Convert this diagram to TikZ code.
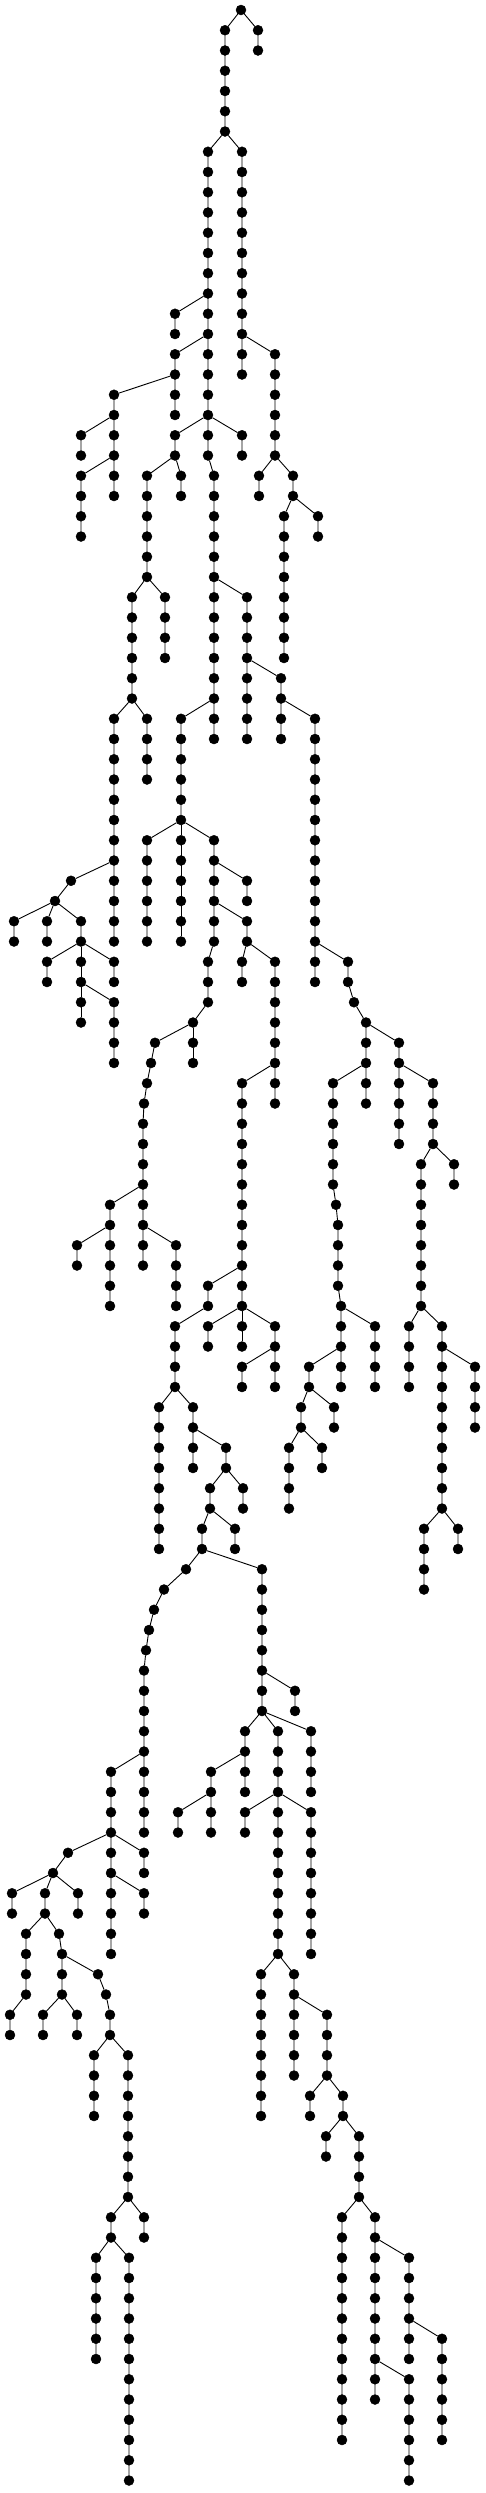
\documentclass[tikz,border=0pt]{standalone}
\usepackage{tikz}

\tikzset{
    vertex/.style={shape=circle, draw=black, fill=black, inner sep=0pt, minimum size=10pt},
    branch/.style={draw=black, line width=0.9pt}}

\begin{document}
\begin{tikzpicture}[x=1pt, y=-1pt]

    \useasboundingbox (0,0) rectangle (486,2493);

    \node[vertex] (R-0) at (241,10) {};

    % chains: name / x / first level / last level / parent
    \foreach \nm/\xx/\lo/\hi/\up in {
        T/225/1/6/R-0, U/258/1/2/R-0,
        V/208/7/22/T-6, W/242/7/18/T-6,
        Va/175/15/16/V-14, Vb/175/17/20/V-16, Vc/114/19/24/Vb-18,
        Vd/81/21/22/Vc-20, Ve/81/23/26/Vc-22,
        Vf/175/21/22/V-20, Vg/242/21/22/V-20,
        Vh/147/23/28/Vf-22, Vi/181/23/24/Vf-22,
        Vj/132/29/34/Vh-28, Vk/165/29/32/Vh-28,
        Vl/114/35/46/Vj-34, Vm/147/35/38/Vj-34,
        Vn/71/43/43/Vl-42, Vo/55/44/44/Vn-43,
        Vp/14/45/46/Vo-44, Vq/47/45/46/Vo-44, Vr/81/45/46/Vo-44,
        Vs/47/47/48/Vr-46, Vt/81/47/48/Vr-46, Vu/114/47/48/Vr-46,
        Vv/81/49/50/Vt-48, Vw/114/49/52/Vt-48,
        S/214/23/36/V-22, Sa/247/29/36/S-28, Sb/281/33/36/Sa-32,
        Sc/315/35/48/Sb-34, Sd/348/47/48/Sc-46, Se/354/49/49/Sd-48,
        Sf/366/50/54/Se-49, Sg/399/51/56/Sf-50, Sh/433/53/56/Sg-52,
        Si/421/57/64/Sh-56, Sj/454/57/58/Sh-56,
        Sk/409/65/68/Si-64, Sl/442/65/74/Si-64, Sm/475/67/70/Sl-66,
        Sn/424/75/78/Sl-74, So/458/75/76/Sl-74,
        Ya/333/53/58/Sf-52, Yb/336/59/59/Ya-58, Yc/338/60/63/Yb-59,
        Yd/341/64/68/Yc-63, Ye/375/65/68/Yd-64, Yf/309/67/68/Yd-66,
        Yg/301/69/70/Yf-68, Yh/334/69/70/Yf-68,
        Yi/289/71/74/Yg-70, Yj/322/71/72/Yg-70,
        Z/181/35/40/S-34,
        Za/147/41/46/Z-40, Zb/181/41/46/Z-40, Zc/214/41/46/Z-40,
        Zd/247/43/44/Zc-42, Ze/247/45/46/Zc-44,
        Zf/242/47/48/Ze-46, Zg/275/47/54/Ze-46, Zh/242/53/64/Zg-52,
        Zi/208/63/64/Zh-62, Zj/208/65/66/Zh-64, Zk/242/65/66/Zh-64,
        Zl/275/65/68/Zh-64, Zm/242/67/68/Zl-66,
        D/175/65/68/Zi-64, Da/159/69/76/D-68, Db/193/69/72/D-68,
        Dc/226/71/72/Db-70, Dd/243/73/74/Dc-72, De/210/73/74/Dc-72,
        Df/235/75/76/De-74, Dg/202/75/76/De-74,
        E/186/77/77/Dg-76, Ea/164/78/78/E-77, Eb/154/79/79/Ea-78,
        Ec/149/80/80/Eb-79, Ed/146/81/81/Ec-80, Ee/144/82/90/Ed-81,
        F/111/87/96/Ee-86, Fa/68/91/91/F-90, Fb/144/91/92/F-90,
        Fc/144/93/94/F-92, Fd/53/92/92/Fa-91,
        G/12/93/94/Fd-92, Ga/45/93/94/Fd-92, Gb/78/93/94/Fd-92,
        Gc/26/95/98/Ga-94, Gd/10/99/100/Gc-98,
        Ge/59/95/95/Ga-94, Gf/62/96/98/Ge-95,
        Gg/43/99/100/Gf-98, Gh/77/99/100/Gf-98,
        H/98/97/97/Gf-96, Ha/106/98/98/H-97, Hb/110/99/100/Ha-98,
        Hc/94/101/104/Hb-100, Hd/128/101/108/Hb-100,
        He/111/109/110/Hd-108, Hf/144/109/110/Hd-108,
        Hg/96/111/116/He-110, Hh/129/111/122/He-110,
        I/262/77/84/Dg-76, Ia/295/83/84/I-82,
        Ib/245/85/88/I-84, Ic/278/85/96/I-84, Id/311/85/88/I-84,
        Ie/211/87/90/Ib-86, If/178/89/90/Ie-88,
        Ig/245/89/90/Ic-88, Ih/311/89/96/Ic-88,
        J/261/97/104/Ic-96, Ja/294/97/102/Ic-96, Jb/327/99/102/Ja-98,
        Jc/310/103/104/Jb-102, Jd/343/103/104/Jb-102,
        Je/326/105/106/Jd-104, Jf/359/105/108/Jd-104,
        K/342/109/120/Jf-108, Ka/375/109/118/Jf-108,
        Kb/409/111/116/Ka-110, Kc/442/115/120/Kb-114, Kd/409/117/122/Ka-116,
        M/208/47/49/Zc-46, Ma/193/50/50/M-49,
        Mb/155/51/51/Ma-50, Mc/193/51/52/Ma-50,
        Md/151/52/52/Mb-51, Me/147/53/53/Md-52, Mf/144/54/54/Me-53,
        Mg/143/55/62/Mf-54, Mh/110/59/64/Mg-58, Mi/77/61/62/Mh-60,
        Mj/176/61/64/Mg-60,
        Wa/275/17/22/W-16, Wb/259/23/24/Wa-22, Wc/293/23/24/Wa-22,
        Wd/284/25/32/Wc-24, We/318/25/26/Wc-24}
    {
        \foreach \k in {\lo,...,\hi}
            \node[vertex] (\nm-\k) at (\xx,{10+20.25*\k}) {};
        \draw[branch] (\up) -- (\nm-\lo) -- (\nm-\hi);
    }

\end{tikzpicture}
\end{document}
